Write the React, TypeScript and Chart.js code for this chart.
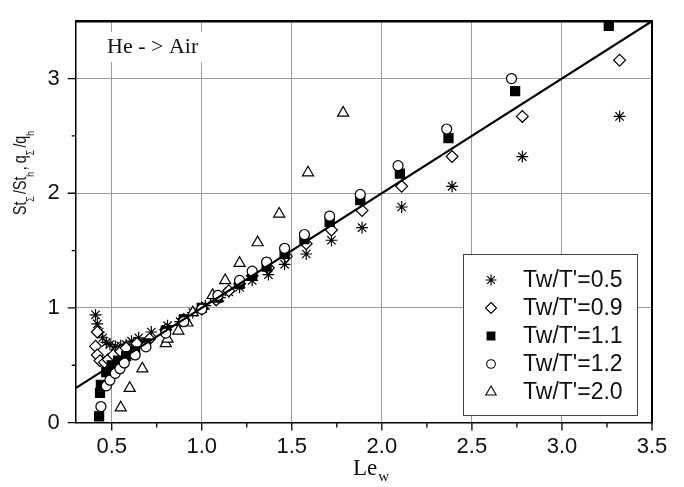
import React, { useEffect, useRef } from 'react';
import { Chart, registerables } from 'chart.js';

Chart.register(...registerables);

// ---------- data ----------
const seriesLabels = ["Tw/T'=0.5", "Tw/T'=0.9", "Tw/T'=1.1", "Tw/T'=1.2", "Tw/T'=2.0"];

const t05x = [0.41, 0.42, 0.43, 0.45, 0.47, 0.49, 0.52, 0.55, 0.58, 0.61, 0.65, 0.72, 0.81, 0.88, 0.95, 1.02, 1.10, 1.15, 1.21, 1.28, 1.37, 1.46, 1.58, 1.72, 1.89, 2.11, 2.39, 2.78, 3.32];
const t05y = [0.94, 0.86, 0.79, 0.74, 0.70, 0.68, 0.665, 0.67, 0.68, 0.71, 0.74, 0.79, 0.845, 0.88, 0.96, 1.02, 1.09, 1.14, 1.18, 1.24, 1.29, 1.38, 1.47, 1.59, 1.70, 1.88, 2.06, 2.32, 2.67];

const t09x = [0.42, 0.41, 0.42, 0.435, 0.46, 0.48, 0.51, 0.55, 0.58, 0.64, 0.71, 0.80, 0.90, 1.00, 1.08, 1.15, 1.21, 1.28, 1.37, 1.47, 1.58, 1.72, 1.89, 2.11, 2.39, 2.78, 3.32];
const t09y = [0.79, 0.665, 0.59, 0.54, 0.525, 0.55, 0.59, 0.62, 0.65, 0.69, 0.73, 0.81, 0.90, 0.99, 1.07, 1.15, 1.21, 1.28, 1.35, 1.45, 1.56, 1.68, 1.85, 2.06, 2.32, 2.67, 3.16];

const t11x = [0.43, 0.435, 0.44, 0.47, 0.50, 0.535, 0.58, 0.63, 0.69, 0.80, 0.90, 1.00, 1.09, 1.21, 1.28, 1.36, 1.46, 1.57, 1.71, 1.88, 2.10, 2.37, 2.74, 3.26];
const t11y = [0.055, 0.26, 0.33, 0.44, 0.50, 0.54, 0.58, 0.62, 0.69, 0.80, 0.90, 1.00, 1.09, 1.21, 1.28, 1.36, 1.47, 1.60, 1.75, 1.94, 2.17, 2.48, 2.89, 3.46];

const t12x = [0.44, 0.47, 0.49, 0.52, 0.546, 0.57, 0.63, 0.69, 0.80, 0.90, 1.00, 1.09, 1.21, 1.28, 1.36, 1.46, 1.57, 1.71, 1.88, 2.09, 2.36, 2.72];
const t12y = [0.14, 0.32, 0.37, 0.43, 0.47, 0.52, 0.59, 0.66, 0.78, 0.88, 0.99, 1.11, 1.24, 1.32, 1.40, 1.52, 1.64, 1.80, 1.99, 2.24, 2.56, 3.00];

const t20x = [0.55, 0.60, 0.67, 0.80, 0.81, 0.87, 0.92, 0.95, 1.06, 1.13, 1.21, 1.31, 1.43, 1.59, 1.785];
const t20y = [0.13, 0.30, 0.47, 0.69, 0.73, 0.80, 0.87, 0.96, 1.11, 1.24, 1.39, 1.57, 1.82, 2.18, 2.70];

const lineX = [0.3, 3.5];
const lineY = [0.3, 3.5];

const xTicks = [0.5, 1.0, 1.5, 2.0, 2.5, 3.0, 3.5];
const xMinorTicks = [0.75, 1.25, 1.75, 2.25, 2.75, 3.25];
const yTicks = [0, 1, 2, 3];
const yMinorTicks = [0.5, 1.5, 2.5];

const annotationText = 'He - > Air';

const pts = (xs: number[], ys: number[]) => xs.map((x, i) => ({ x, y: ys[i] }));

const SANS = "'Liberation Sans', Arial, Helvetica, sans-serif";
const SERIF = "'Liberation Serif', 'Times New Roman', serif";

function drawSymbol(ctx: CanvasRenderingContext2D, style: string, x: number, y: number, r: number) {
  ctx.beginPath();
  if (style === 'star') {
    ctx.moveTo(x - r, y); ctx.lineTo(x + r, y);
    ctx.moveTo(x, y - r); ctx.lineTo(x, y + r);
    const d = r * Math.SQRT1_2;
    ctx.moveTo(x - d, y - d); ctx.lineTo(x + d, y + d);
    ctx.moveTo(x - d, y + d); ctx.lineTo(x + d, y - d);
    ctx.stroke();
  } else if (style === 'rectRot') {
    ctx.moveTo(x, y - r); ctx.lineTo(x + r, y); ctx.lineTo(x, y + r); ctx.lineTo(x - r, y); ctx.closePath();
    ctx.fillStyle = '#fff'; ctx.fill(); ctx.stroke();
  } else if (style === 'rect') {
    const s = r * Math.SQRT1_2;
    ctx.rect(x - s, y - s, 2 * s, 2 * s);
    ctx.fillStyle = '#000'; ctx.fill(); ctx.stroke();
  } else if (style === 'circle') {
    ctx.arc(x, y, r, 0, Math.PI * 2);
    ctx.fillStyle = '#fff'; ctx.fill(); ctx.stroke();
  } else if (style === 'triangle') {
    for (let k = 0; k < 3; k++) {
      const a = -Math.PI / 2 + k * 2 * Math.PI / 3;
      const px = x + Math.cos(a) * r, py = y + Math.sin(a) * r;
      if (k === 0) ctx.moveTo(px, py); else ctx.lineTo(px, py);
    }
    ctx.closePath();
    ctx.fillStyle = '#fff'; ctx.fill(); ctx.stroke();
  }
}

const legendStyles = ['star', 'rectRot', 'rect', 'circle', 'triangle'];
const legendRadius = [5.5, 5.5, 5.5, 4.3, 6];

const decorPlugin = {
  id: 'decor',
  afterDraw(chart: any) {
    const ctx: CanvasRenderingContext2D = chart.ctx;
    const { left, right, top, bottom } = chart.chartArea;
    const xs = chart.scales.x;
    const ys = chart.scales.y;
    ctx.save();
    ctx.strokeStyle = '#000';
    // frame top & right
    ctx.lineWidth = 2.5;
    ctx.beginPath(); ctx.moveTo(left, top); ctx.lineTo(right + 1, top); ctx.stroke();
    ctx.lineWidth = 2;
    ctx.beginPath(); ctx.moveTo(right, top); ctx.lineTo(right, bottom); ctx.stroke();
    // ticks
    ctx.lineWidth = 1.3;
    ctx.beginPath();
    xTicks.forEach(v => { const p = xs.getPixelForValue(v); ctx.moveTo(p, bottom); ctx.lineTo(p, bottom + 8); });
    xMinorTicks.forEach(v => { const p = xs.getPixelForValue(v); ctx.moveTo(p, bottom); ctx.lineTo(p, bottom + 5); });
    yTicks.forEach(v => { const p = ys.getPixelForValue(v); ctx.moveTo(left - 8, p); ctx.lineTo(left, p); });
    yMinorTicks.forEach(v => { const p = ys.getPixelForValue(v); ctx.moveTo(left - 4, p); ctx.lineTo(left, p); });
    ctx.stroke();

    // annotation
    ctx.fillStyle = '#fff';
    ctx.fillRect(103, 32, 102, 30);
    ctx.fillStyle = '#111';
    ctx.font = `22px ${SERIF}`;
    ctx.textAlign = 'left';
    ctx.textBaseline = 'alphabetic';
    ctx.fillText(annotationText, 107, 53);

    // legend
    const lx = 463.5, ly = 254.5, lw = 174, lh = 161;
    ctx.fillStyle = '#fff';
    ctx.fillRect(lx, ly, lw, lh);
    ctx.strokeStyle = '#444';
    ctx.lineWidth = 1;
    ctx.strokeRect(lx, ly, lw, lh);
    const rows = [280, 308, 336, 364, 392];
    ctx.font = `23px ${SANS}`;
    ctx.textBaseline = 'middle';
    rows.forEach((ry, i) => {
      ctx.strokeStyle = '#000';
      ctx.lineWidth = 1.1;
      drawSymbol(ctx, legendStyles[i], 491, ry, legendRadius[i]);
      ctx.fillStyle = '#111';
      ctx.fillText(seriesLabels[i], 523, ry + 1);
    });

    // x title: Le_w
    ctx.fillStyle = '#111';
    ctx.textBaseline = 'alphabetic';
    ctx.font = `23px ${SERIF}`;
    ctx.fillText('Le', 353, 475);
    const leW = ctx.measureText('Le').width;
    ctx.font = `15px ${SERIF}`;
    ctx.fillText('w', 353 + leW + 1, 481);

    // y title
    const parts: [string, boolean, number][] = [
      ['St', false, 0], ['Σ', true, 3], ['/St', false, 0], ['h', true, 2],
      [',', false, 4], ['q', false, 0], ['Σ', true, 3], ['/q', false, 0], ['h', true, 0],
    ];
    const mainFont = `18px ${SANS}`;
    const subFont = `11px ${SANS}`;
    let total = 0;
    parts.forEach(([t, sub, g]) => { ctx.font = sub ? subFont : mainFont; total += ctx.measureText(t).width + g; });
    const target = 84;
    const sx = target / total;
    ctx.translate(26, 215);
    ctx.rotate(-Math.PI / 2);
    ctx.scale(sx, 1);
    let cx = 0;
    parts.forEach(([t, sub, g]) => {
      ctx.font = sub ? subFont : mainFont;
      ctx.fillText(t, cx, sub ? 8 : 0);
      cx += ctx.measureText(t).width + g;
    });
    ctx.restore();
  },
};

export default function App() {
  const ref = useRef<HTMLCanvasElement>(null);
  useEffect(() => {
    document.body.style.margin = '0';
    const canvas = ref.current!;
    const symbolDs = (label: string, data: any[], style: string, r: number, fill: string) => ({
      type: 'scatter' as const,
      label,
      data,
      pointStyle: style,
      pointRadius: r,
      pointHoverRadius: r,
      pointBorderColor: '#000',
      pointBackgroundColor: fill,
      pointBorderWidth: 1.2,
      borderColor: '#000',
      backgroundColor: fill,
      showLine: false,
    });
    const chart = new Chart(canvas, {
      type: 'scatter',
      data: {
        datasets: [
          {
            type: 'line' as const,
            label: 'fit',
            data: pts(lineX, lineY),
            borderColor: '#000',
            borderWidth: 2.2,
            pointRadius: 0,
            fill: false,
          } as any,
          symbolDs(seriesLabels[3], pts(t12x, t12y), 'circle', 5, '#fff'),
          symbolDs(seriesLabels[2], pts(t11x, t11y), 'rect', 6.4, '#000'),
          symbolDs(seriesLabels[4], pts(t20x, t20y), 'triangle', 6.4, '#fff'),
          symbolDs(seriesLabels[1], pts(t09x, t09y), 'rectRot', 5.9, '#fff'),
          symbolDs(seriesLabels[0], pts(t05x, t05y), 'star', 5.9, '#000'),
        ],
      },
      options: {
        responsive: false,
        animation: false,
        devicePixelRatio: 1,
        layout: { padding: { top: 5, right: 32, left: 0, bottom: 0 } },
        plugins: { legend: { display: false }, tooltip: { enabled: false } },
        scales: {
          x: {
            type: 'linear',
            min: 0.3,
            max: 3.5,
            afterBuildTicks: (s: any) => { s.ticks = xTicks.map(v => ({ value: v })); },
            afterFit: (s: any) => { s.height = 64.4; },
            ticks: {
              callback: (v: any) => Number(v).toFixed(1),
              font: { family: SANS, size: 22 },
              color: '#111',
              padding: 3,
              maxRotation: 0,
              autoSkip: false,
            },
            grid: {
              color: '#9c9c9c',
              lineWidth: 1,
              drawTicks: true,
              tickLength: 8,
              tickColor: 'rgba(0,0,0,0)',
            },
            border: { color: '#000', width: 1.5 },
          },
          y: {
            type: 'linear',
            min: 0,
            max: 3.5,
            afterBuildTicks: (s: any) => { s.ticks = yTicks.map(v => ({ value: v })); },
            afterFit: (s: any) => { s.width = 75.7; },
            ticks: {
              callback: (v: any) => String(v),
              font: { family: SANS, size: 22 },
              color: '#111',
              padding: 8,
              autoSkip: false,
            },
            grid: {
              color: (c: any) => (c.tick && c.tick.value === 0 ? 'rgba(0,0,0,0)' : '#9c9c9c'),
              lineWidth: 1,
              drawTicks: true,
              tickLength: 8,
              tickColor: 'rgba(0,0,0,0)',
            },
            border: { color: '#000', width: 1.5 },
          },
        },
      },
      plugins: [decorPlugin],
    } as any);
    return () => chart.destroy();
  }, []);
  return (
    <div style={{ position: 'fixed', left: 0, top: 0, width: 684, height: 487, background: '#fff' }}>
      <canvas ref={ref} width={684} height={487} />
    </div>
  );
}
